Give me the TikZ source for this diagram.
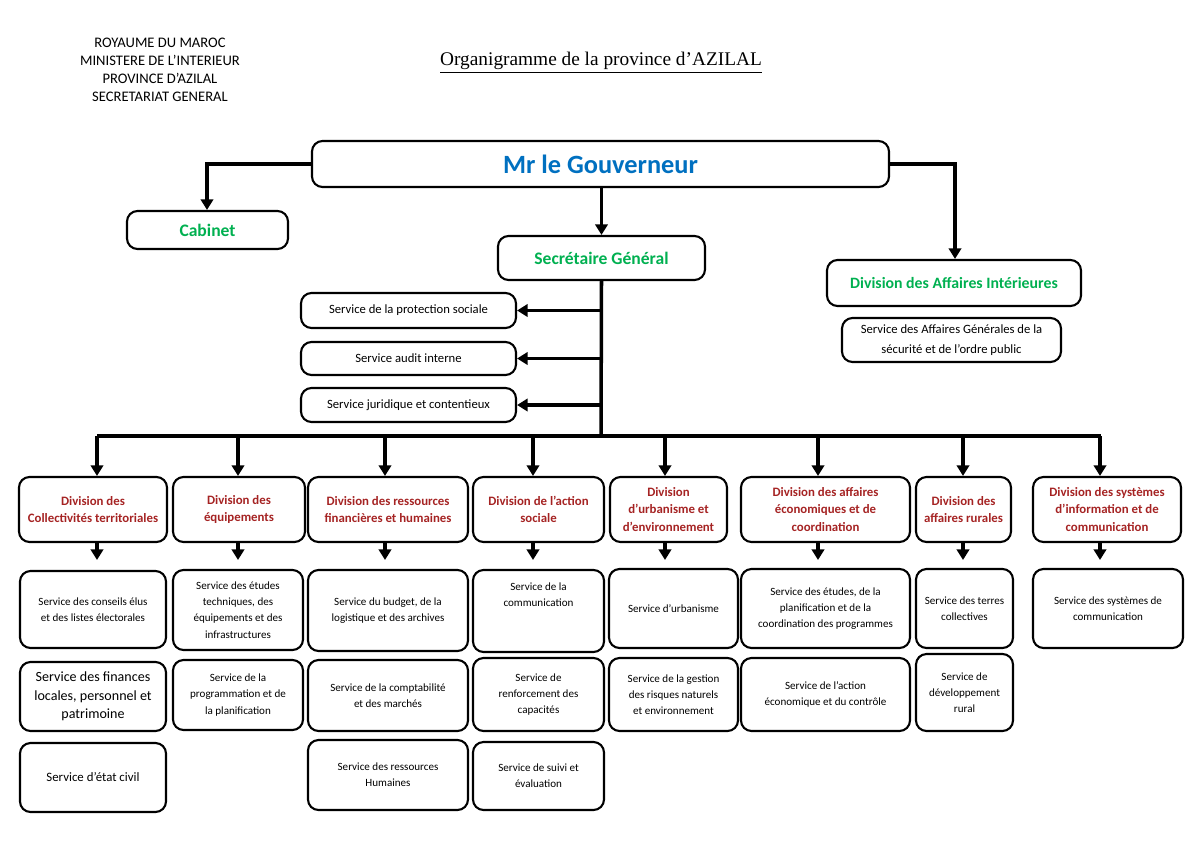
\documentclass[tikz,border=0pt]{standalone}
\usepackage{fontspec}
\setmainfont{Carlito}
\newfontfamily\tnr{Liberation Serif}
\usetikzlibrary{arrows.meta}
\definecolor{gblue}{RGB}{0,112,192}
\definecolor{ggreen}{RGB}{0,176,80}
\definecolor{dred}{RGB}{165,35,35}
\begin{document}
\begin{tikzpicture}[x=0.02cm,y=-0.02cm,
 bx/.style={draw,line width=1.2pt,rounded corners=6pt,align=center,inner sep=1pt},
 dv/.style={bx,text=dred,font=\fontsize{7.3}{10}\selectfont\bfseries},
 sv/.style={bx,font=\fontsize{6.3}{9.2}\selectfont},
 ln/.style={line width=2pt},
 ar/.style={line width=2pt,-{Triangle[length=6pt,width=7pt]}}]
\useasboundingbox (0,0) rectangle (1200,849);
\node[align=center,font=\fontsize{8.3}{10.2}\selectfont] (hdr) at (160,70) {ROYAUME DU MAROC\\MINISTERE DE L’INTERIEUR\\PROVINCE D’AZILAL\\SECRETARIAT GENERAL};
\node[font=\tnr\fontsize{11}{14}\selectfont] (title) at (601,63) {\underline{Organigramme de la province d’AZILAL}};
\def\bb#1#2#3#4#5#6#7{\node[#2,minimum width={(#5-#3)*0.02cm},minimum height={(#6-#4)*0.02cm}] (#1) at ({(#3+#5)/2},{(#4+#6)/2}) {#7};}
\bb{gov}{bx,text=gblue,font=\fontsize{15}{18}\selectfont\bfseries}{312}{141}{889}{187}{Mr le Gouverneur}
\bb{cab}{bx,text=ggreen,font=\fontsize{10}{12}\selectfont\bfseries}{127}{211}{288}{249}{Cabinet}
\bb{sg}{bx,text=ggreen,font=\fontsize{10}{12}\selectfont\bfseries}{498}{236}{705}{280}{Secrétaire Général}
\bb{dai}{bx,text=ggreen,font=\fontsize{9}{12}\selectfont\bfseries}{827}{260}{1081}{306}{Division des Affaires Intérieures}
\bb{sag}{bx,font=\fontsize{7.2}{11}\selectfont}{842}{318}{1061}{362}{Service des Affaires Générales de la\\sécurité et de l’ordre public}
\bb{sp}{bx,font=\fontsize{7.2}{10}\selectfont}{301}{293}{516}{328}{Service de la protection sociale}
\bb{sa}{bx,font=\fontsize{7.2}{10}\selectfont}{301}{342}{516}{375}{Service audit interne}
\bb{sj}{bx,font=\fontsize{7.2}{10}\selectfont}{301}{388}{516}{422}{Service juridique et contentieux}
\coordinate (gl) at (207,164); \coordinate (gr) at (955,164);
\draw[ar] (gov.west|-gl) -- (gl) -- (cab.north-|gl);
\draw[ar] (gov.east|-gr) -- (gr) -- (dai.north-|gr);
\draw[ar] (gov.south-|sg.north) -- (sg.north);
\coordinate (bus) at (601,436);
\draw[ln] (sg.south) -- (bus);
\foreach \n in {sp,sa,sj}{\draw[ar] (\n.east-|bus) -- (\n.east);}
\coordinate (bl) at (97,436); \coordinate (br) at (1101,436);
\draw[ln] (bl) -- (br);
% divisions
\bb{d1}{dv}{19}{477}{167}{542}{Division des\\Collectivités territoriales}
\bb{d2}{dv}{173}{477}{305}{542}{Division des\\équipements}
\bb{d3}{dv}{308}{477}{468}{542}{Division des ressources\\financières et humaines}
\bb{d4}{dv}{473}{477}{604}{542}{Division de l’action\\sociale}
\bb{d5}{dv}{610}{477}{727}{542}{Division\\d’urbanisme et\\d’environnement}
\bb{d6}{dv}{741}{477}{910}{542}{Division des affaires\\économiques et de\\coordination}
\bb{d7}{dv}{916}{477}{1011}{542}{Division des\\affaires rurales}
\bb{d8}{dv}{1033}{477}{1181}{542}{Division des systèmes\\d’information et de\\communication}
\foreach \d/\x in {d1/97,d2/238,d3/385,d4/533,d5/665,d6/818,d7/963,d8/1100}{
 \coordinate (t\d) at (\x,436);
 \draw[ar] (t\d) -- (\d.north-|t\d);
 \coordinate (b\d) at (\x,560);
 \draw[ar] (\d.south-|t\d) -- (b\d);}
% services
\bb{s11}{sv}{20}{571}{166}{648}{Service des conseils élus\\et des listes électorales}
\bb{s12}{sv,font=\fontsize{8}{10.5}\selectfont}{20}{662}{166}{731}{Service des finances\\locales, personnel et\\patrimoine}
\bb{s13}{sv,font=\fontsize{7.3}{10}\selectfont}{20}{743}{166}{812}{Service d’état civil}
\bb{s21}{sv}{173}{570}{303}{650}{Service des études\\techniques, des\\équipements et des\\infrastructures}
\bb{s22}{sv}{173}{660}{303}{730}{Service de la\\programmation et de\\la planification}
\bb{s31}{sv}{308}{570}{468}{651}{Service du budget, de la\\logistique et des archives}
\bb{s32}{sv}{308}{660}{468}{731}{Service de la comptabilité\\et des marchés}
\bb{s33}{sv}{308}{740}{468}{810}{Service des ressources\\Humaines}
\bb{s41}{sv}{473}{570}{604}{652}{Service de la\\communication\\[9pt]}
\bb{s42}{sv}{473}{658}{604}{731}{Service de\\renforcement des\\capacités}
\bb{s43}{sv}{473}{742}{604}{810}{Service de suivi et\\évaluation}
\bb{s51}{sv}{609}{569}{738}{648}{Service d’urbanisme}
\bb{s52}{sv}{609}{658}{738}{731}{Service de la gestion\\des risques naturels\\et environnement}
\bb{s61}{sv}{741}{569}{910}{648}{Service des études, de la\\planification et de la\\coordination des programmes}
\bb{s62}{sv}{741}{658}{910}{731}{Service de l’action\\économique et du contrôle}
\bb{s71}{sv}{916}{569}{1013}{648}{Service des terres\\collectives}
\bb{s72}{sv}{916}{654}{1013}{731}{Service de\\développement\\rural}
\bb{s81}{sv}{1033}{569}{1183}{648}{Service des systèmes de\\communication}
\end{tikzpicture}
\end{document}
